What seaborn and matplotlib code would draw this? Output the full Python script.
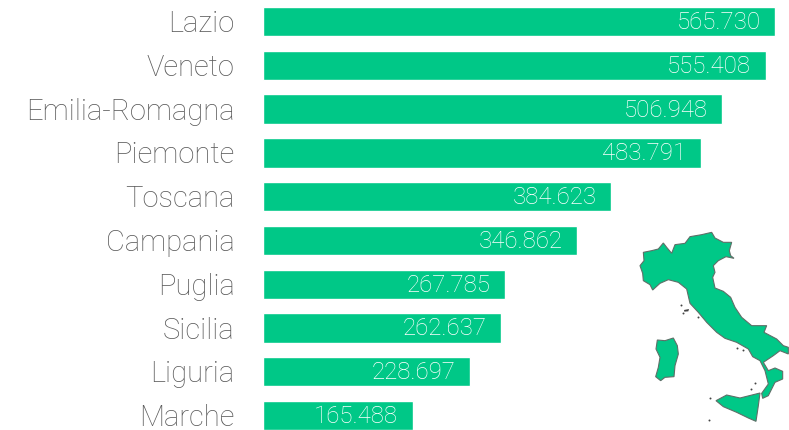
# Top Italian regions, horizontal bars with a small map of Italy
import matplotlib.pyplot as plt
from matplotlib.transforms import ScaledTranslation
import pandas as pd
import seaborn as sns

regions = ["Lazio", "Veneto", "Emilia-Romagna", "Piemonte", "Toscana",
           "Campania", "Puglia", "Sicilia", "Liguria", "Marche"]
values = [565730, 555408, 506948, 483791, 384623,
          346862, 267785, 262637, 228697, 165488]
value_labels = ["565.730", "555.408", "506.948", "483.791", "384.623",
                "346.862", "267.785", "262.637", "228.697", "165.488"]

# map outlines, traced by eye
mainland = [(60, 155), (72, 140), (70, 115), (95, 110), (115, 105), (130, 87), (140, 100),
            (155, 118), (165, 92), (195, 88), (210, 68), (245, 62), (275, 55), (285, 72),
            (310, 85), (335, 85), (328, 110), (332, 125), (342, 133), (318, 128), (295, 140),
            (280, 155), (285, 175), (278, 190), (285, 222), (310, 232), (332, 250), (345, 280),
            (365, 310), (395, 335), (440, 335), (432, 355), (470, 375), (490, 395), (505, 400),
            (505, 420), (480, 410), (460, 425), (430, 445), (445, 470), (465, 462), (488, 472),
            (488, 495), (465, 505), (445, 545), (428, 553), (425, 538), (445, 510), (435, 470),
            (420, 440), (398, 428), (385, 405), (350, 385), (315, 373), (290, 355), (260, 325),
            (235, 295), (210, 268), (200, 225), (175, 205), (145, 197), (120, 208), (98, 228),
            (90, 212), (70, 200), (68, 178)]
sardinia = [(112, 378), (135, 380), (160, 372), (172, 395), (175, 420), (165, 455), (162, 488),
            (135, 490), (122, 500), (107, 488), (115, 460), (120, 430), (108, 405)]
sicily = [(288, 560), (320, 543), (360, 552), (420, 537), (415, 575), (408, 622),
          (385, 612), (350, 595), (310, 578)]
elba = [(192, 288), (207, 285), (205, 292), (193, 293)]
islets = [(182, 272), (190, 297), (235, 310), (350, 402), (370, 407), (393, 525),
          (270, 553), (267, 619), (405, 506)]

GREEN = "#00C887"
GREY = "#595959"

sns.set_theme(style="white")
plt.rcParams["font.family"] = ["Roboto", "DejaVu Sans"]

df = pd.DataFrame({"region": regions, "value": values})

fig = plt.figure(figsize=(7.89, 4.31), dpi=100)
ax = fig.add_axes([263 / 789, 0, 526 / 789, 1])

sns.barplot(data=df, x="value", y="region", color=GREEN, saturation=1, width=0.67, ax=ax)
ax.set_xlim(0, 581000)
ax.set_ylim(9.33, -0.514)
ax.set_xlabel("")
ax.set_ylabel("")
ax.set_xticks([])
ax.tick_params(axis="y", length=0, pad=20.5, labelsize=21, labelcolor=GREY)
sns.despine(ax=ax, left=True, bottom=True)
ax.patch.set_alpha(0)

# labels sit a touch above the bar centre
nudge = ScaledTranslation(0, 1 / 72, fig.dpi_scale_trans)
for label in ax.get_yticklabels():
    label.set_fontweight("light")
    label.set_transform(label.get_transform() + nudge)

texts = ax.bar_label(ax.containers[0], labels=value_labels, padding=-10.5, color="white",
                     fontsize=17.3, fontweight="light")
for t in texts:
    t.set_ha("right")

# map inset, same pixel grid as the crop it was traced from
map_ax = fig.add_axes([620 / 789, 0, 169 / 789, 216 / 431])
map_ax.set_xlim(0, 507)
map_ax.set_ylim(648, 0)
map_ax.axis("off")
for shape in [mainland, sardinia, sicily]:
    map_ax.fill(*zip(*shape), facecolor=GREEN, edgecolor="#5f6f68", linewidth=0.8)
map_ax.fill(*zip(*elba), facecolor="#444444", edgecolor="none")
map_ax.scatter(*zip(*islets), s=2, color="#444444", linewidths=0)

fig.savefig("out.png", dpi=100)
plt.close(fig)
